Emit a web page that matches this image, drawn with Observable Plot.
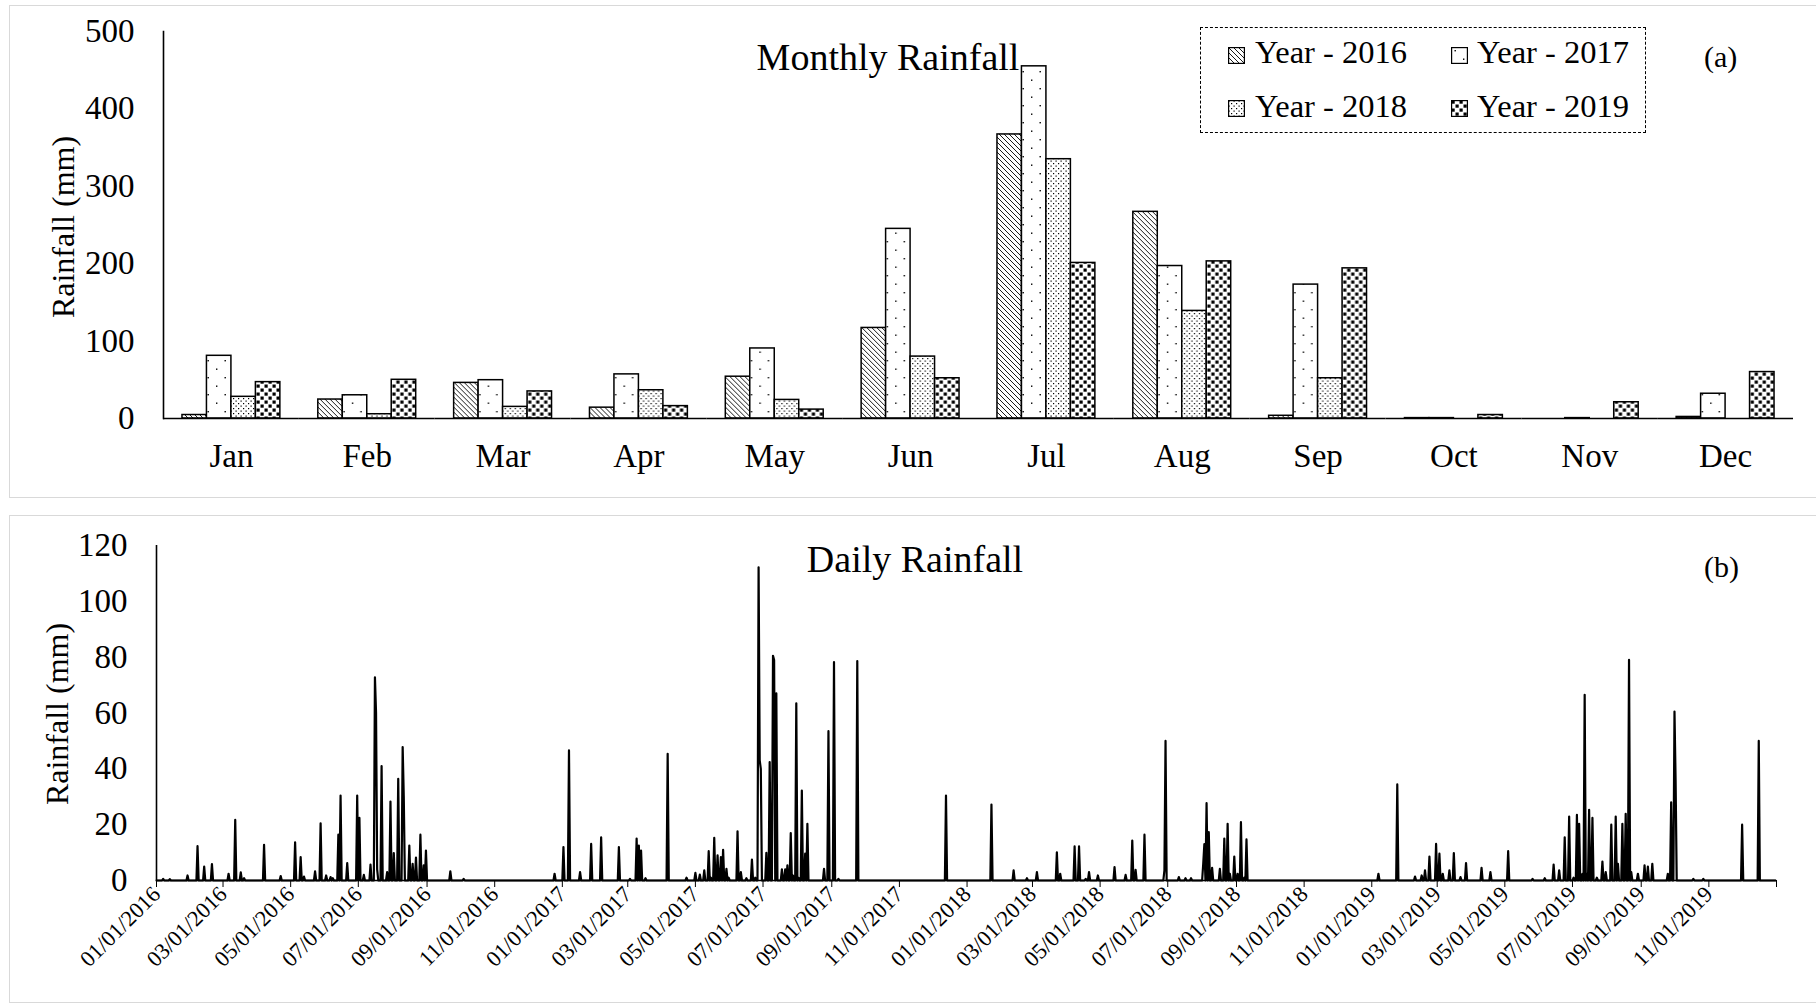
<!DOCTYPE html>
<html><head><meta charset="utf-8">
<script src="https://cdn.jsdelivr.net/npm/d3@7"></script>
<script src="https://cdn.jsdelivr.net/npm/@observablehq/plot@0.6"></script>
<style>
html,body{margin:0;padding:0;background:#fff;width:1816px;height:1004px;overflow:hidden;font-family:"Liberation Serif","Times New Roman",serif;color:#000}
.panel{position:absolute;border:1.5px solid #d9d9d9;box-sizing:border-box}
.abs{position:absolute;white-space:nowrap;line-height:1}
.chart{position:absolute;left:0;width:1816px}
.rot{position:absolute;white-space:nowrap;line-height:1;transform:translate(-50%,-50%) rotate(-90deg);font-size:32px}
.sw{position:absolute;width:17px;height:17px}
</style></head>
<body>
<svg width="0" height="0" style="position:absolute">
  <defs>
    <pattern id="p2016" patternUnits="userSpaceOnUse" width="5" height="5">
      <rect width="5" height="5" fill="#fff"/>
      <path d="M0,0 L5,5 M-1,4 L1,6 M4,-1 L6,1" stroke="#000" stroke-width="0.9"/>
    </pattern>
    <pattern id="p2017" patternUnits="userSpaceOnUse" width="17" height="17">
      <rect width="17" height="17" fill="#fff"/>
      <rect x="3.5" y="3" width="1.4" height="1.4" fill="#000"/>
      <rect x="12" y="11.5" width="1.4" height="1.4" fill="#000"/>
    </pattern>
    <pattern id="p2018" patternUnits="userSpaceOnUse" width="5" height="5">
      <rect width="5" height="5" fill="#fff"/>
      <rect x="0.5" y="0.5" width="1.2" height="1.2" fill="#000"/>
      <rect x="3" y="3" width="1.2" height="1.2" fill="#000"/>
    </pattern>
    <pattern id="p2019" patternUnits="userSpaceOnUse" width="8" height="8">
      <rect width="8" height="8" fill="#fff"/>
      <rect x="0.5" y="0.5" width="3.2" height="3.2" fill="#000"/>
      <rect x="4.5" y="4.5" width="3.2" height="3.2" fill="#000"/>
    </pattern>
  </defs>
</svg>

<div class="panel" style="left:9px;top:5px;width:1830px;height:493px"></div>
<div class="panel" style="left:9px;top:515px;width:1830px;height:488px"></div>

<div id="chartA" class="chart" style="top:0"></div>
<div id="chartB" class="chart" style="top:510px"></div>

<div class="abs" style="left:888px;top:38px;font-size:38px;transform:translateX(-50%)">Monthly Rainfall</div>
<div class="abs" style="left:1704px;top:42px;font-size:30px">(a)</div>
<div class="rot" style="left:63px;top:227px">Rainfall (mm)</div>

<div class="abs" style="left:1200px;top:27px;width:446px;height:106px;border:1.3px dashed #000;box-sizing:border-box"></div>
<div id="legend"></div>

<div class="abs" style="left:915px;top:540px;font-size:38px;transform:translateX(-50%)">Daily Rainfall</div>
<div class="abs" style="left:1704px;top:552px;font-size:30px">(b)</div>
<div class="rot" style="left:57px;top:714px">Rainfall (mm)</div>

<script>
// ---------- Monthly rainfall (mm) ----------
const months = ["Jan","Feb","Mar","Apr","May","Jun","Jul","Aug","Sep","Oct","Nov","Dec"];
const years = ["2016","2017","2018","2019"];
const rain2016 = [4.5, 24.5, 46, 14, 54, 117, 367, 267, 3.5, 0.5, 0, 2];
const rain2017 = [81, 30, 49.5, 57, 90.5, 245, 455, 197, 173, 0.5, 0.5, 32];
const rain2018 = [28, 5.5, 15, 36.5, 24, 80, 335, 139, 52, 0, 0, 0];
const rain2019 = [47, 50, 35, 16, 11.5, 52, 201, 203, 194, 4.5, 21, 60];
const monthlyTicks = [0, 100, 200, 300, 400, 500];
const legendLabels = ["Year - 2016", "Year - 2017", "Year - 2018", "Year - 2019"];

// ---------- Daily rainfall (mm): rainy days, all other days 0 ----------
const dailyTicks = [0, 20, 40, 60, 80, 100, 120];
const rainDays = [
  ["2016-01-07",0.6],["2016-01-13",0.5],["2016-01-29",1.8],["2016-02-07",12.3],["2016-02-13",5],
  ["2016-02-20",5.9],["2016-03-06",2.4],["2016-03-12",21.7],["2016-03-17",2.9],["2016-03-20",0.8],
  ["2016-04-07",12.8],["2016-04-22",1.6],["2016-05-05",13.7],["2016-05-10",8.4],["2016-05-13",1.4],
  ["2016-05-23",3.3],["2016-05-28",20.5],["2016-06-02",1.8],["2016-06-06",1.2],["2016-06-08",0.8],
  ["2016-06-13",16.4],["2016-06-15",30.4],["2016-06-21",6.2],["2016-06-30",30.4],["2016-07-02",22.4],
  ["2016-07-06",2],["2016-07-12",5.7],["2016-07-16",72.8],["2016-07-17",60],["2016-07-18",4],
  ["2016-07-22",41],["2016-07-27",3],["2016-07-30",28.3],["2016-08-02",9.8],["2016-08-06",36.4],
  ["2016-08-10",47.8],["2016-08-11",30],["2016-08-16",12.5],["2016-08-19",6],["2016-08-22",8.2],
  ["2016-08-26",16.4],["2016-08-29",5.4],["2016-08-31",10.7],["2016-09-22",3.3],["2016-10-04",0.6],
  ["2016-12-25",2.4],
  ["2017-01-02",12],["2017-01-07",46.6],["2017-01-17",3],["2017-01-27",13.1],["2017-02-05",15.5],
  ["2017-02-21",12],["2017-03-03",0.6],["2017-03-09",15],["2017-03-11",12.5],["2017-03-13",10.7],
  ["2017-03-17",0.8],["2017-04-06",45.4],["2017-04-23",1],["2017-05-01",2.7],["2017-05-05",2.1],
  ["2017-05-09",3.6],["2017-05-13",10.5],["2017-05-15",1],["2017-05-18",15.3],["2017-05-21",9],
  ["2017-05-24",8.4],["2017-05-26",11],["2017-05-29",4.2],["2017-05-31",1],["2017-06-08",17.6],
  ["2017-06-11",3],["2017-06-16",0.8],["2017-06-21",7.5],["2017-06-24",1],["2017-06-27",112.2],
  ["2017-06-28",43],["2017-06-29",40],["2017-07-04",9.9],["2017-07-07",42.4],["2017-07-10",80.5],
  ["2017-07-11",79],["2017-07-13",67],["2017-07-18",4],["2017-07-21",4],["2017-07-23",5.4],
  ["2017-07-26",17],["2017-07-28",1.8],["2017-07-31",63.5],["2017-08-02",1],["2017-08-05",32.2],
  ["2017-08-08",9.6],["2017-08-10",20.3],["2017-08-25",4.2],["2017-08-29",53.5],["2017-09-03",78.2],
  ["2017-09-07",0.6],["2017-09-24",78.6],["2017-12-13",30.4],
  ["2018-01-23",27.2],["2018-02-12",3.6],["2018-02-24",0.8],["2018-03-05",3],["2018-03-23",10.1],
  ["2018-03-26",2.4],["2018-04-08",12.2],["2018-04-12",12.2],["2018-04-18",0.6],["2018-04-21",3],
  ["2018-04-29",1.8],["2018-05-14",4.8],["2018-05-24",2],["2018-05-30",14.3],["2018-06-02",3.8],
  ["2018-06-10",16.4],["2018-06-28",3.6],["2018-06-29",50],["2018-07-11",1.2],["2018-07-17",0.8],
  ["2018-07-22",0.8],["2018-08-02",6],["2018-08-03",13],["2018-08-05",27.7],["2018-08-07",17.3],
  ["2018-08-10",4.5],["2018-08-17",4.2],["2018-08-21",15],["2018-08-24",20.3],["2018-08-26",2.4],
  ["2018-08-30",8.6],["2018-09-02",2.4],["2018-09-05",20.9],["2018-09-08",1],["2018-09-10",14.7],
  ["2019-01-07",2.4],["2019-01-24",34.4],["2019-02-09",1.4],["2019-02-15",1.8],["2019-02-18",3.6],
  ["2019-02-22",8.6],["2019-02-28",13.1],["2019-03-03",9.6],["2019-03-06",2.4],["2019-03-12",3.6],
  ["2019-03-16",9.8],["2019-03-22",1.2],["2019-03-27",6.2],["2019-04-10",4.5],["2019-04-18",3],
  ["2019-05-04",10.5],["2019-05-26",0.6],["2019-06-06",0.8],["2019-06-14",5.7],["2019-06-19",3.6],
  ["2019-06-24",15.5],["2019-06-28",22.9],["2019-07-02",1],["2019-07-05",23.5],["2019-07-07",20.3],
  ["2019-07-10",2.4],["2019-07-12",66.5],["2019-07-14",2.4],["2019-07-16",25.3],["2019-07-19",22.4],
  ["2019-07-23",1],["2019-07-28",6.8],["2019-07-31",3],["2019-08-05",20],["2019-08-09",22.9],
  ["2019-08-11",6],["2019-08-15",20.3],["2019-08-18",23.9],["2019-08-21",79],["2019-08-23",3],
  ["2019-08-29",2.4],["2019-09-04",5.4],["2019-09-07",5],["2019-09-11",6],["2019-09-25",2.4],
  ["2019-09-28",28],["2019-10-01",60.5],["2019-10-02",36],["2019-10-18",0.6],["2019-10-27",0.6],
  ["2019-12-01",20],["2019-12-16",50]
];

const font = '"Liberation Serif","Times New Roman",serif';
const byYear = {"2016": rain2016, "2017": rain2017, "2018": rain2018, "2019": rain2019};
const monthly = months.flatMap((m, i) => years.map(y => ({month: m, year: y, value: byYear[y][i]})));
const patterns = years.map(y => `url(#p${y})`);

const chartA = Plot.plot({
  width: 1816, height: 500,
  marginLeft: 163, marginRight: 23, marginTop: 31, marginBottom: 82,
  style: {fontFamily: font, fontSize: "33px", color: "black", background: "transparent", overflow: "visible"},
  fx: {domain: months, padding: 0, round: false},
  x: {domain: years, paddingInner: 0, paddingOuter: 0.775, round: false, axis: null},
  y: {domain: [0, 500]},
  color: {domain: years, range: patterns},
  marks: [
    Plot.axisY({ticks: monthlyTicks, tickSize: 0, tickPadding: 29, label: null, fontSize: 33}),
    Plot.axisFx({anchor: "bottom", tickSize: 0, tickPadding: 25, label: null, fontSize: 33}),
    Plot.barY(monthly, {fx: "month", x: "year", y: "value", fill: "year", stroke: "black", strokeWidth: 1.5}),
    Plot.ruleY([0], {stroke: "black", strokeWidth: 1.6}),
    Plot.frame({anchor: "left", facetAnchor: "left", stroke: "black", strokeWidth: 1.6})
  ]
});
document.getElementById("chartA").append(chartA);

// legend
const leg = document.getElementById("legend");
const legPos = [[1228, 1255, 47, 36], [1451, 1477, 47, 36], [1228, 1255, 100, 90], [1451, 1477, 100, 90]];
years.forEach((y, i) => {
  const [sx, tx, sy, ty] = legPos[i];
  const s = document.createElementNS("http://www.w3.org/2000/svg", "svg");
  s.setAttribute("class", "sw");
  s.style.left = sx + "px"; s.style.top = sy + "px";
  s.innerHTML = `<rect x="0.6" y="0.6" width="15.8" height="15.8" fill="${patterns[i]}" stroke="#000" stroke-width="1.2"/>`;
  leg.append(s);
  const t = document.createElement("div");
  t.className = "abs";
  t.style.cssText = `left:${tx}px;top:${ty}px;font-size:32.5px`;
  t.textContent = legendLabels[i];
  leg.append(t);
});

// daily
const start = new Date("2016-01-01"), end = new Date("2020-01-01");
const rainMap = new Map(rainDays);
const key = d3.utcFormat("%Y-%m-%d");
const daily = d3.utcDay.range(start, end).map(date => ({date, value: rainMap.get(key(date)) ?? 0}));
const xTicks = d3.utcMonth.every(2).range(start, d3.utcDay.offset(end, 1));
const fmt = d3.utcFormat("%m/%d/%Y");

const chartB = Plot.plot({
  width: 1816, height: 494,
  marginLeft: 156, marginRight: 40, marginTop: 35, marginBottom: 124,
  style: {fontFamily: font, fontSize: "33px", color: "black", background: "transparent", overflow: "visible"},
  x: {type: "utc", domain: [start, end]},
  y: {domain: [0, 120]},
  marks: [
    Plot.axisY({ticks: dailyTicks, tickSize: 0, tickPadding: 29, label: null, fontSize: 33}),
    Plot.axisX({ticks: xTicks, tickSize: 7, tickPadding: 3, tickRotate: -45, label: null, fontSize: 22.5,
      tickFormat: d => (+d >= +end ? "" : fmt(d))}),
    Plot.lineY(daily, {x: "date", y: "value", stroke: "black", strokeWidth: 2.2}),
    Plot.ruleY([0], {stroke: "black", strokeWidth: 1.6}),
    Plot.ruleX([start], {stroke: "black", strokeWidth: 1.6})
  ]
});
document.getElementById("chartB").append(chartB);
</script>
</body></html>
